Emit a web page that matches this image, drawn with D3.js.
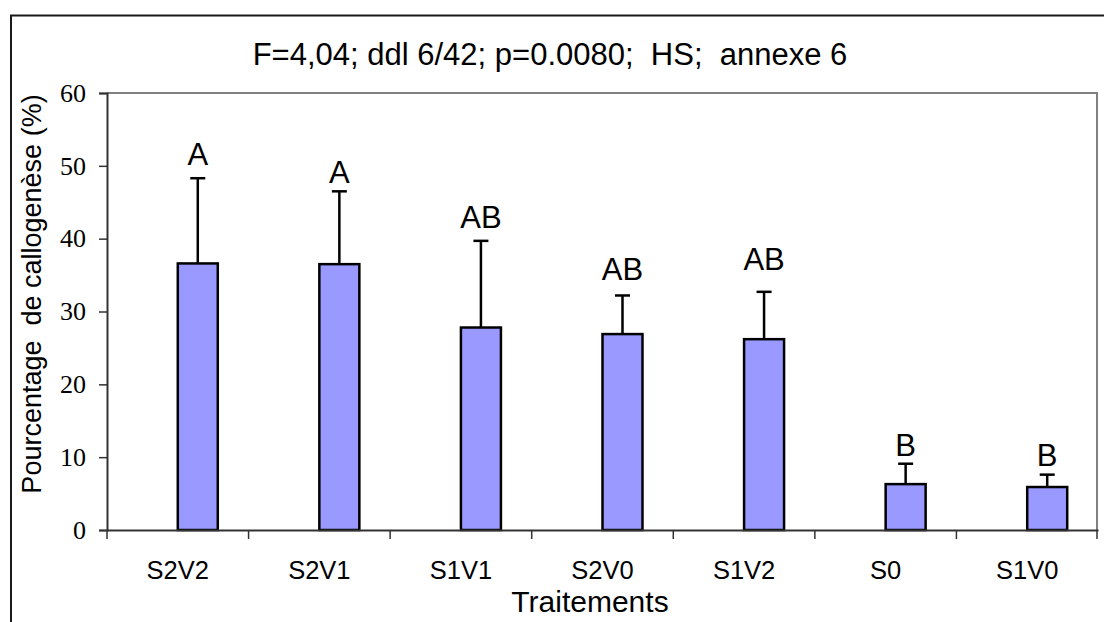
<!DOCTYPE html>
<html>
<head>
<meta charset="utf-8">
<script src="https://cdn.jsdelivr.net/npm/d3@7/dist/d3.min.js"></script>
<style>
  html, body { margin: 0; padding: 0; background: #fff; }
  svg { display: block; }
  text { white-space: pre; }
</style>
</head>
<body>
<svg id="chart" width="1104" height="622"></svg>
<script>
// Treatments, mean callus-induction percentage, upper error bar and group letters
const categories = ["S2V2", "S2V1", "S1V1", "S2V0", "S1V2", "S0", "S1V0"];
const meanValues = [36.6, 36.5, 27.8, 26.9, 26.2, 6.3, 5.9];
const errorTops = [48.3, 46.5, 39.7, 32.2, 32.7, 9.1, 7.6];
const groupLetters = ["A", "A", "AB", "AB", "AB", "B", "B"];
const letterLevels = [50.1, 47.7, 41.4, 34.3, 35.7, 10.2, 8.8];
const yTicks = [0, 10, 20, 30, 40, 50, 60];

const titleText = "F=4,04; ddl 6/42; p=0.0080;  HS;  annexe 6";
const yTitle = "Pourcentage  de callogenèse (%)";
const xTitle = "Traitements";

const svg = d3.select("#chart");
const sans = "'Liberation Sans', Arial, sans-serif";
const serif = "'Liberation Serif', 'Times New Roman', serif";

const plot = { left: 107, right: 1098, top: 93, bottom: 530 };

const x = d3.scaleBand().domain(categories).range([plot.left, plot.right]).padding(0);
// two slots per category; the first one is left empty
const slot = d3.scaleBand().domain(["vide", "callogenese"]).range([0, x.bandwidth()])
  .paddingInner(0).paddingOuter(0.77);
const y = d3.scaleLinear().domain([0, 60]).range([plot.bottom, plot.top]);

// outer chart frame
svg.append("path")
  .attr("d", `M11,${622} L11,15.5 L${1104},15.5`)
  .attr("fill", "none").attr("stroke", "#1a1a1a").attr("stroke-width", 2);

// plot-area frame (top and right edges)
svg.append("path")
  .attr("d", `M${plot.left},${plot.top} L${plot.right - 1},${plot.top} L${plot.right - 1},${plot.bottom}`)
  .attr("fill", "none").attr("stroke", "#808080").attr("stroke-width", 2);

// title
svg.append("text")
  .attr("x", 550).attr("y", 65)
  .attr("text-anchor", "middle")
  .attr("font-family", sans).attr("font-size", 31)
  .attr("fill", "#000")
  .text(titleText);

// bars
const barW = slot.bandwidth();
svg.append("g").selectAll("rect")
  .data(categories)
  .join("rect")
  .attr("x", (d) => x(d) + slot("callogenese"))
  .attr("y", (d, i) => y(meanValues[i]))
  .attr("width", barW)
  .attr("height", (d, i) => y(0) - y(meanValues[i]))
  .attr("fill", "#9999FF")
  .attr("stroke", "#000")
  .attr("stroke-width", 2.5);

// error bars (upper only)
const errG = svg.append("g").attr("stroke", "#000").attr("stroke-width", 2.5);
categories.forEach((c, i) => {
  const cx = x(c) + slot("callogenese") + barW / 2;
  errG.append("line")
    .attr("x1", cx).attr("x2", cx)
    .attr("y1", y(meanValues[i])).attr("y2", y(errorTops[i]));
  errG.append("line")
    .attr("x1", cx - 7.5).attr("x2", cx + 7.5)
    .attr("y1", y(errorTops[i])).attr("y2", y(errorTops[i]));
});

// group letters
svg.append("g").selectAll("text")
  .data(categories)
  .join("text")
  .attr("x", (d) => x(d) + slot("callogenese") + barW / 2)
  .attr("y", (d, i) => y(letterLevels[i]))
  .attr("text-anchor", "middle")
  .attr("font-family", sans).attr("font-size", 31)
  .attr("fill", "#000")
  .text((d, i) => groupLetters[i]);

// y axis
const yAxis = svg.append("g")
  .attr("transform", `translate(${plot.left},0)`)
  .call(d3.axisLeft(y).tickValues(yTicks).tickSize(8).tickPadding(13).tickFormat(d3.format("d")));
yAxis.select(".domain").attr("stroke", "#333").attr("stroke-width", 2);
yAxis.selectAll(".tick line").attr("stroke", "#333").attr("stroke-width", 1.5);
yAxis.selectAll(".tick text")
  .attr("font-family", serif).attr("font-size", 26).attr("fill", "#000");

// x axis: labels centred on each category, ticks on category boundaries
const xAxis = svg.append("g")
  .attr("transform", `translate(0,${plot.bottom})`)
  .call(d3.axisBottom(x).tickSize(0).tickPadding(31));
xAxis.select(".domain").attr("stroke", "#333").attr("stroke-width", 2);
xAxis.selectAll(".tick text")
  .attr("font-family", sans).attr("font-size", 25.5).attr("fill", "#000");

const boundaries = categories.map((c) => x(c)).concat([plot.right - 1]);
svg.append("g").selectAll("line")
  .data(boundaries)
  .join("line")
  .attr("x1", (d) => d).attr("x2", (d) => d)
  .attr("y1", plot.bottom).attr("y2", plot.bottom + 9)
  .attr("stroke", "#333").attr("stroke-width", 1.5);

// axis titles
svg.append("text")
  .attr("x", 590).attr("y", 612)
  .attr("text-anchor", "middle")
  .attr("font-family", sans).attr("font-size", 30)
  .attr("fill", "#000")
  .text(xTitle);

svg.append("text")
  .attr("transform", `translate(41,294) rotate(-90)`)
  .attr("text-anchor", "middle")
  .attr("font-family", sans).attr("font-size", 27)
  .attr("fill", "#000")
  .text(yTitle);
</script>
</body>
</html>
